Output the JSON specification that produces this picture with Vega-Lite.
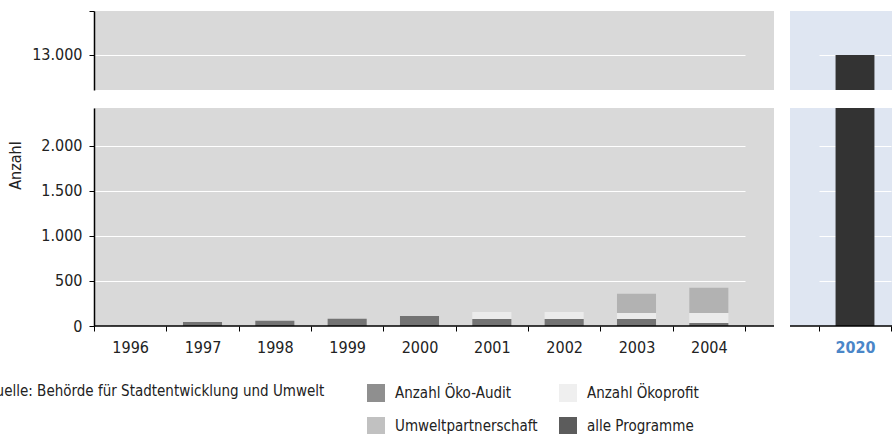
{
  "$schema": "https://vega.github.io/schema/vega-lite/v6.json",
  "autosize": {"type": "none"},
  "padding": {"left": 94, "top": 11, "right": 799, "bottom": 423},
  "background": "white",
  "datasets": {
    "links": [
      {"Jahr": "1996", "Programm": "Anzahl Öko-Audit", "Anzahl": 2},
      {"Jahr": "1997", "Programm": "Anzahl Öko-Audit", "Anzahl": 45},
      {"Jahr": "1998", "Programm": "Anzahl Öko-Audit", "Anzahl": 58},
      {"Jahr": "1999", "Programm": "Anzahl Öko-Audit", "Anzahl": 80},
      {"Jahr": "2000", "Programm": "Anzahl Öko-Audit", "Anzahl": 110},
      {"Jahr": "2001", "Programm": "Anzahl Öko-Audit", "Anzahl": 78},
      {"Jahr": "2001", "Programm": "Anzahl Ökoprofit", "Anzahl": 77},
      {"Jahr": "2002", "Programm": "Anzahl Öko-Audit", "Anzahl": 78},
      {"Jahr": "2002", "Programm": "Anzahl Ökoprofit", "Anzahl": 77},
      {"Jahr": "2003", "Programm": "Anzahl Öko-Audit", "Anzahl": 78},
      {"Jahr": "2003", "Programm": "Anzahl Ökoprofit", "Anzahl": 66},
      {"Jahr": "2003", "Programm": "Umweltpartnerschaft", "Anzahl": 214},
      {"Jahr": "2004", "Programm": "Anzahl Öko-Audit", "Anzahl": 33},
      {"Jahr": "2004", "Programm": "Anzahl Ökoprofit", "Anzahl": 111},
      {"Jahr": "2004", "Programm": "Umweltpartnerschaft", "Anzahl": 281}
    ],
    "ziel": [
      {"Jahr": "2020", "Programm": "alle Programme", "Anzahl": 13000}
    ],
    "null": [{"Wert": 0}]
  },
  "columns": 2,
  "spacing": {"row": 18, "column": 16},
  "align": "each",
  "bounds": "flush",
  "concat": [
    {
      "width": 680,
      "height": 79,
      "view": {"fill": "#d9d9d9", "stroke": null},
      "data": {"name": "links"},
      "mark": {"type": "bar", "clip": true, "width": {"band": 0.54}},
      "encoding": {
        "x": {"field": "Jahr", "type": "ordinal",
          "scale": {"domain": ["1996","1997","1998","1999","2000","2001","2002","2003","2004"], "range": [0, 651], "paddingInner": 0, "paddingOuter": 0},
          "axis": null},
        "y": {"field": "Anzahl", "type": "quantitative", "stack": "zero",
          "scale": {"domain": [12600, 13500], "nice": false, "zero": false},
          "axis": {"values": [13000, 13500], "title": null,
            "labelExpr": "datum.value == 13000 ? '13.000' : ''",
            "grid": true,
            "gridOpacity": {"condition": {"test": "datum.value == 13000", "value": 1}, "value": 0}}},
        "color": {"field": "Programm", "type": "nominal",
          "scale": {"domain": ["Anzahl Öko-Audit", "Anzahl Ökoprofit", "Umweltpartnerschaft", "alle Programme"], "range": ["#737373", "#ebebeb", "#b2b2b2", "#333333"]},
          "legend": {"title": "Quelle: Behörde für Stadtentwicklung und Umwelt"}},
        "order": {"field": "Programm", "sort": "ascending"}
      }
    },
    {
      "width": 102,
      "height": 79,
      "view": {"fill": "#dfe6f2", "stroke": null},
      "data": {"name": "ziel"},
      "mark": {"type": "bar", "clip": true, "width": {"band": 0.54}},
      "encoding": {
        "x": {"field": "Jahr", "type": "ordinal",
          "scale": {"domain": ["2020"], "range": [29, 101], "paddingInner": 0, "paddingOuter": 0},
          "axis": null},
        "y": {"field": "Anzahl", "type": "quantitative", "stack": "zero",
          "scale": {"domain": [12600, 13500], "nice": false, "zero": false},
          "axis": {"values": [13000], "title": null, "labels": false, "ticks": false, "domain": false, "grid": true}},
        "color": {"field": "Programm", "type": "nominal",
          "scale": {"domain": ["Anzahl Öko-Audit", "Anzahl Ökoprofit", "Umweltpartnerschaft", "alle Programme"], "range": ["#737373", "#ebebeb", "#b2b2b2", "#333333"]},
          "legend": {"title": "Quelle: Behörde für Stadtentwicklung und Umwelt"}}
      }
    },
    {
      "width": 680,
      "height": 218,
      "view": {"fill": "#d9d9d9", "stroke": null},
      "layer": [
        {
          "data": {"name": "links"},
          "mark": {"type": "bar", "clip": true, "width": {"band": 0.54}},
          "encoding": {
            "x": {"field": "Jahr", "type": "ordinal",
              "scale": {"domain": ["1996","1997","1998","1999","2000","2001","2002","2003","2004"], "range": [0, 651], "paddingInner": 0, "paddingOuter": 0},
              "axis": {"title": null, "tickBand": "extent", "domain": false, "labelAngle": 0, "grid": false, "labelPadding": 8}},
            "y": {"field": "Anzahl", "type": "quantitative", "stack": "zero",
              "scale": {"domain": [0, 2420], "nice": false},
              "axis": {"values": [0, 500, 1000, 1500, 2000], "title": "Anzahl",
                "labelExpr": "replace(format(datum.value, ','), ',', '.')",
                "grid": true,
                "titleAngle": 270, "titleAlign": "center", "titleBaseline": "middle",
                "titleX": -79, "titleY": 57}},
            "color": {"field": "Programm", "type": "nominal",
              "scale": {"domain": ["Anzahl Öko-Audit", "Anzahl Ökoprofit", "Umweltpartnerschaft", "alle Programme"], "range": ["#737373", "#ebebeb", "#b2b2b2", "#333333"]},
              "legend": {"title": "Quelle: Behörde für Stadtentwicklung und Umwelt"}},
            "order": {"field": "Programm", "sort": "ascending"}
          }
        },
        {
          "data": {"name": "null"},
          "mark": {"type": "rule", "color": "black", "strokeWidth": 1.5},
          "encoding": {"y": {"field": "Wert", "type": "quantitative"}}
        }
      ]
    },
    {
      "width": 102,
      "height": 218,
      "view": {"fill": "#dfe6f2", "stroke": null},
      "layer": [
        {
          "data": {"name": "ziel"},
          "mark": {"type": "bar", "clip": true, "width": {"band": 0.54}},
          "encoding": {
            "x": {"field": "Jahr", "type": "ordinal",
              "scale": {"domain": ["2020"], "range": [29, 101], "paddingInner": 0, "paddingOuter": 0},
              "axis": {"title": null, "tickBand": "extent", "domain": false, "labelAngle": 0, "grid": false, "labelPadding": 8, "labelColor": "#4a86c8", "labelFontWeight": "bold"}},
            "y": {"field": "Anzahl", "type": "quantitative", "stack": "zero",
              "scale": {"domain": [0, 2420], "nice": false},
              "axis": {"values": [500, 1000, 1500, 2000], "title": null, "labels": false, "ticks": false, "domain": false, "grid": true}},
            "color": {"field": "Programm", "type": "nominal",
              "scale": {"domain": ["Anzahl Öko-Audit", "Anzahl Ökoprofit", "Umweltpartnerschaft", "alle Programme"], "range": ["#737373", "#ebebeb", "#b2b2b2", "#333333"]},
              "legend": {"title": "Quelle: Behörde für Stadtentwicklung und Umwelt"}}
          }
        },
        {
          "data": {"name": "null"},
          "mark": {"type": "rule", "color": "black", "strokeWidth": 1.5},
          "encoding": {"y": {"field": "Wert", "type": "quantitative"}}
        }
      ]
    }
  ],
  "config": {
    "font": "DejaVu Sans Condensed, Roboto, sans-serif",
    "axis": {
      "labelFont": "DejaVu Sans Condensed, Roboto, sans-serif", "labelFontSize": 16, "labelColor": "#222222",
      "titleFont": "DejaVu Sans Condensed, Roboto, sans-serif", "titleFontSize": 16, "titleFontWeight": "normal", "titleColor": "#222222",
      "domainColor": "black", "domainWidth": 1.5, "tickColor": "black", "tickSize": 5, "tickWidth": 1,
      "gridColor": "white", "gridWidth": 1, "labelPadding": 7
    },
    "legend": {
      "orient": "none", "legendX": -109, "legendY": 373,
      "columns": 2, "direction": "horizontal",
      "titleOrient": "left", "titleAnchor": "start", "titleBaseline": "top",
      "titleFont": "DejaVu Sans Condensed, Roboto, sans-serif", "titleFontSize": 15, "titleFontWeight": "normal", "titleColor": "#222222",
      "titlePadding": 42, "titleLimit": 600,
      "labelFont": "DejaVu Sans Condensed, Roboto, sans-serif", "labelFontSize": 15, "labelColor": "#222222", "labelLimit": 300, "labelOffset": 10,
      "symbolType": "square", "symbolSize": 324, "symbolStrokeWidth": 0, "symbolOpacity": 0.8,
      "rowPadding": 15, "columnPadding": 21
    }
  }
}
